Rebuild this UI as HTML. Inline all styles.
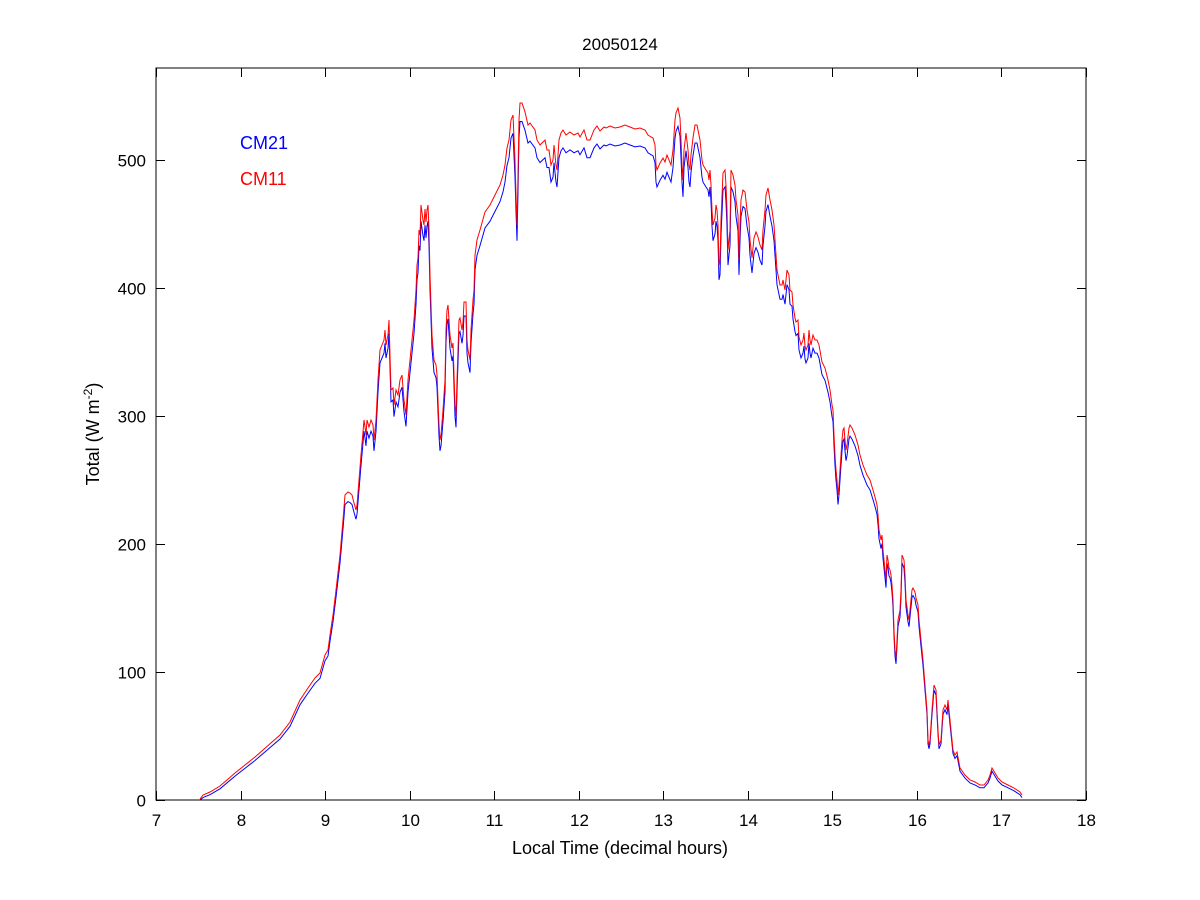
<!DOCTYPE html>
<html><head><meta charset="utf-8"><style>
html,body{margin:0;padding:0;background:#fff;}
svg{display:block;font-family:"Liberation Sans",Arial,sans-serif;}
</style></head><body>
<svg id="s" width="1200" height="900" xmlns="http://www.w3.org/2000/svg">
<rect x="0" y="0" width="1200" height="900" fill="#fff"/>
<rect x="156" y="68" width="930" height="732" fill="none" stroke="#000" stroke-width="1"/>
<g id="ticks" stroke="#000" stroke-width="1"></g>
<g font-size="17" fill="#000" id="labels"></g>
<text x="620" y="50" font-size="17" text-anchor="middle">20050124</text>
<text x="620" y="854" font-size="18" text-anchor="middle">Local Time (decimal hours)</text>
<text transform="translate(99,434) rotate(-90)" font-size="18" text-anchor="middle">Total (W m<tspan dy="-7" font-size="12">-2</tspan><tspan dy="7">)</tspan></text>
<text x="240" y="149" font-size="18" fill="#0000ff">CM21</text>
<text x="240" y="185" font-size="18" fill="#ff0000">CM11</text>
<polyline id="blue" fill="none" stroke="#0000ff" stroke-width="1"/>
<polyline id="red" fill="none" stroke="#ff0000" stroke-width="1"/>
</svg>
<script>
var ns="http://www.w3.org/2000/svg";
var tk=document.getElementById("ticks"),lb=document.getElementById("labels");
function ln(x1,y1,x2,y2){var l=document.createElementNS(ns,"line");l.setAttribute("x1",x1);l.setAttribute("y1",y1);l.setAttribute("x2",x2);l.setAttribute("y2",y2);tk.appendChild(l);}
function tx(x,y,t,a){var e=document.createElementNS(ns,"text");e.setAttribute("x",x);e.setAttribute("y",y);e.setAttribute("text-anchor",a);e.textContent=t;lb.appendChild(e);}
for(var h=7;h<=18;h++){var x=156+(h-7)*930/11;x=Math.round(x)+0.5;ln(x,800,x,791);ln(x,68,x,77);tx(x,826,""+h,"middle");}
for(var v=0;v<=500;v+=100){var y=Math.round(800-v*1.28)+0.5;ln(156,y,165,y);ln(1086,y,1077,y);tx(146,y+6,""+v,"end");}
var r=[200,799,203,795,210,792,220,786,235,773,255,757,280,735,290,722,300,700,308,688,315,678,320,673,325,655,328,650,330,635,333,615,336,590,340,555,343,520,345,495,348,492,350,493,352,495,354,503,356,510,357,505,359,480,361,455,363,432,364,420,365,427,366,435,367,420,369,427,371,420,373,425,374,440,376,420,378,380,380,350,382,345,384,340,385,330,386,345,388,335,389,320,391,390,393,388,394,405,396,390,398,395,400,380,402,375,404,400,406,415,408,380,412,340,414,320,416,290,417,265,418,258,419,230,420,235,421,205,423,220,424,225,425,209,426,222,427,210,428,205,429,230,430,275,432,335,434,360,436,365,437,375,439,425,440,440,441,435,443,410,445,380,446,330,447,310,448,305,449,320,450,335,452,348,453,343,455,405,456,416,457,380,459,320,460,318,462,330,463,322,464,302,466,302,467,340,468,350,469,355,470,360,471,330,473,300,474,290,475,255,477,240,480,230,485,212,490,205,495,195,500,185,503,175,505,165,507,148,509,140,511,120,513,115,515,160,516,195,517,225,518,175,519,120,520,103,522,103,525,112,528,125,530,123,535,130,537,140,540,145,542,143,545,140,547,150,549,150,551,165,553,160,554,145,556,165,557,170,559,140,561,133,563,130,566,135,570,132,574,135,578,133,580,137,584,130,587,140,590,140,594,130,597,126,600,131,604,127,606,128,610,126,615,128,620,127,625,125,630,127,635,129,640,128,645,130,648,135,651,137,653,138,655,145,656,165,657,170,660,163,663,158,665,162,667,155,669,160,671,165,673,150,675,120,676,113,678,108,680,118,681,140,682,165,683,180,684,150,686,133,688,150,689,165,690,170,691,155,693,138,695,125,697,125,700,140,702,160,703,165,706,170,708,173,709,180,710,170,711,185,712,210,713,225,715,218,716,205,717,210,718,225,719,265,720,260,721,220,723,173,725,170,726,185,727,210,728,250,730,230,731,170,733,175,735,185,736,200,738,215,739,260,740,225,741,200,743,190,745,192,747,210,749,222,750,240,752,258,754,238,756,232,758,237,760,245,762,250,763,230,765,210,766,195,768,188,770,200,772,210,774,225,775,240,777,270,778,275,780,285,782,285,783,280,785,290,787,270,789,275,790,290,792,292,793,305,795,318,796,322,798,320,799,337,801,345,803,340,804,333,805,346,806,350,808,345,809,330,810,340,811,345,813,335,815,340,817,340,819,345,822,362,825,368,828,380,830,390,832,405,833,410,834,435,835,455,836,470,837,480,838,495,839,485,840,470,841,455,842,440,843,430,844,428,845,440,846,450,847,445,849,428,850,425,852,428,855,435,858,445,860,455,863,465,865,470,867,475,870,480,873,490,875,497,877,505,878,515,879,530,881,540,882,535,883,550,884,560,886,580,887,555,888,560,889,568,890,570,891,575,892,585,893,600,894,630,895,650,896,658,897,640,898,620,900,610,901,590,902,555,904,560,905,575,906,600,908,615,909,620,910,610,912,590,913,588,914,590,915,592,916,598,918,605,919,620,921,640,923,660,925,685,927,710,928,740,929,745,930,740,932,710,934,685,936,690,937,710,938,730,939,745,941,740,943,710,945,705,947,710,948,700,949,710,951,730,953,750,955,755,957,752,960,768,965,775,970,780,975,782,980,785,984,785,988,780,990,775,992,768,995,773,998,778,1002,782,1008,785,1014,788,1020,792,1022,795];
var rp=[],bp=[];
for(var i=0;i<r.length;i+=2){var x=r[i],y=r[i+1];rp.push(x+","+y);var d=(800-y)*0.977-2.5;if(d<0)d=0;bp.push(x+","+(800-d).toFixed(1));}
document.getElementById("red").setAttribute("points",rp.join(" "));
document.getElementById("blue").setAttribute("points",bp.join(" "));
</script>
</body></html>
